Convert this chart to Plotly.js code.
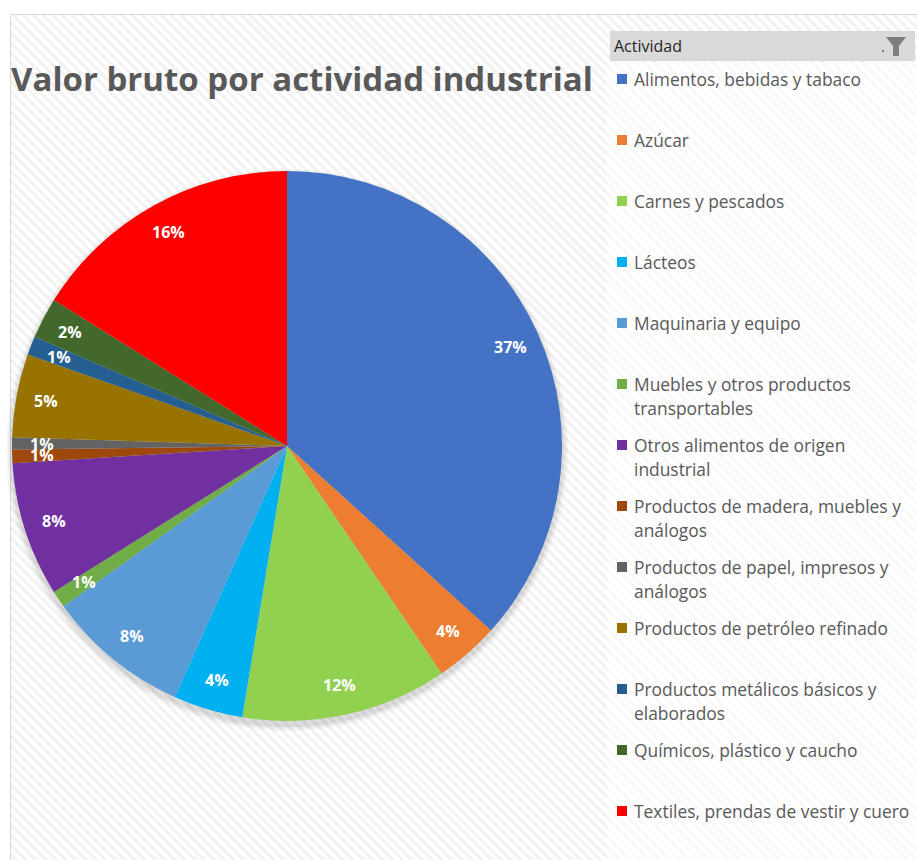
<!DOCTYPE html>
<html>
<head>
<meta charset="utf-8">
<script src="https://cdn.plot.ly/plotly-3.0.1.min.js"></script>
<style>
  html, body { margin: 0; padding: 0; background: #ffffff; }
  #wrap { position: relative; width: 917px; height: 860px; overflow: hidden; }
  #bg {
    position: absolute; left: 10px; top: 14px; right: -2px; bottom: -2px;
    border-left: 1px solid #d9d9d9; border-top: 1px solid #d9d9d9;
    background: repeating-linear-gradient(45deg, #ffffff 0px, #ffffff 3.5px, #f3f3f3 3.5px, #f3f3f3 7px);
  }
  #chart { position: absolute; left: 0; top: 0; width: 917px; height: 860px; }
</style>
</head>
<body>
<div id="wrap">
  <div id="bg"></div>
  <div id="chart"></div>
</div>
<script>
// ---- data ----
const categories = [
  "Alimentos, bebidas y tabaco",
  "Azúcar",
  "Carnes y pescados",
  "Lácteos",
  "Maquinaria y equipo",
  "Muebles y otros productos transportables",
  "Otros alimentos de origen industrial",
  "Productos de madera, muebles y análogos",
  "Productos de papel, impresos y análogos",
  "Productos de petróleo refinado",
  "Productos metálicos básicos y elaborados",
  "Químicos, plástico y caucho",
  "Textiles, prendas de vestir y cuero"
];
const legendLabels = [
  "Alimentos, bebidas y tabaco",
  "Azúcar",
  "Carnes y pescados",
  "Lácteos",
  "Maquinaria y equipo",
  "Muebles y otros productos<br>transportables",
  "Otros alimentos de origen<br>industrial",
  "Productos de madera, muebles y<br>análogos",
  "Productos de papel, impresos y<br>análogos",
  "Productos de petróleo refinado",
  "Productos metálicos básicos y<br>elaborados",
  "Químicos, plástico y caucho",
  "Textiles, prendas de vestir y cuero"
];
const values = [36.7, 3.8, 12.1, 4.1, 8.4, 1.0, 7.9, 0.8, 0.7, 4.9, 1.1, 2.4, 16.1];
const colors = ["#4472C4", "#ED7D31", "#92D050", "#00B0F0", "#5B9BD5", "#70AD47", "#7030A0",
                "#9E480E", "#636363", "#997300", "#255E91", "#43682B", "#FF0000"];
const titleText = "Valor bruto por actividad industrial";
const legendTitle = "Actividad";

// ---- geometry helpers (pixels -> paper) ----
const W = 917, H = 860;
const px = x => x / W;
const py = y => 1 - y / H;
const cx = 287, cy = 446, R = 275;

const shapes = [];
const annotations = [];

// soft drop shadow beneath the pie
[[R + 6, 0.035], [R + 4, 0.045], [R + 2, 0.06]].forEach(([r, a]) => {
  shapes.push({
    type: 'circle', xref: 'paper', yref: 'paper', layer: 'below',
    x0: px(cx - r), x1: px(cx + r), y0: py(cy + 4 + r), y1: py(cy + 4 - r),
    fillcolor: 'rgba(0,0,0,' + a + ')', line: { width: 0 }
  });
});

// legend panel (lighter)
shapes.push({
  type: 'rect', xref: 'paper', yref: 'paper', layer: 'below',
  x0: px(607), x1: px(917), y0: py(860), y1: py(62),
  fillcolor: 'rgba(255,255,255,0.55)', line: { width: 0 }
});
// legend header bar
shapes.push({
  type: 'rect', xref: 'paper', yref: 'paper', layer: 'below',
  x0: px(610), x1: px(915), y0: py(61), y1: py(31),
  fillcolor: '#d9d9d9', line: { width: 0 }
});
// funnel icon
function pth(pts) {
  return 'M' + pts.map(p => px(p[0]) + ',' + py(p[1])).join(' L') + ' Z';
}
shapes.push({
  type: 'path', xref: 'paper', yref: 'paper', layer: 'above',
  path: pth([[886, 37], [906, 37], [899, 46], [899, 56], [893, 56], [893, 46]]),
  fillcolor: '#7f7f7f', line: { width: 0 }
});
shapes.push({
  type: 'rect', xref: 'paper', yref: 'paper', layer: 'above',
  x0: px(882), x1: px(884), y0: py(52), y1: py(50),
  fillcolor: '#7f7f7f', line: { width: 0 }
});
annotations.push({
  text: legendTitle, xref: 'paper', yref: 'paper', x: px(613), y: py(46),
  xanchor: 'left', yanchor: 'middle', showarrow: false, borderpad: 0,
  font: { family: 'Open Sans, sans-serif', size: 16, color: '#262626' }
});

// custom legend entries
const legTop = 79, legStep = 61, lineStep = 24;
legendLabels.forEach((lab, i) => {
  const yc = legTop + i * legStep;
  shapes.push({
    type: 'rect', xref: 'paper', yref: 'paper', layer: 'above',
    x0: px(617), x1: px(627), y0: py(yc + 5), y1: py(yc - 5),
    fillcolor: colors[i], line: { width: 0 }
  });
  lab.split('<br>').forEach((ln, j) => {
    annotations.push({
      text: ln, xref: 'paper', yref: 'paper', x: px(633), y: py(yc + j * lineStep),
      xanchor: 'left', yanchor: 'middle', showarrow: false, borderpad: 0,
      font: { family: 'Open Sans, sans-serif', size: 17.4, color: '#595959' }
    });
  });
});

// slice percentage labels, placed along each slice bisector
const total = values.reduce((a, b) => a + b, 0);
let cum = 0;
values.forEach((v, i) => {
  const th = 2 * Math.PI * (cum + v / 2) / total;
  cum += v;
  const r = 0.89 * R;
  const x = cx + r * Math.sin(th), y = cy - r * Math.cos(th);
  annotations.push({
    text: Math.round(v / total * 100) + '%', xref: 'paper', yref: 'paper',
    x: px(x), y: py(y), xanchor: 'center', yanchor: 'middle', showarrow: false,
    borderpad: 0,
    font: { family: 'Open Sans, sans-serif', size: 16, color: '#ffffff', weight: 'bold' }
  });
});

const trace = {
  type: 'pie',
  labels: categories,
  values: values,
  sort: false,
  direction: 'clockwise',
  rotation: 0,
  marker: { colors: colors, line: { width: 0 } },
  textinfo: 'none',
  hoverinfo: 'label+percent',
  showlegend: false,
  domain: { x: [px(cx - R), px(cx + R)], y: [py(cy + R), py(cy - R)] }
};

const layout = {
  width: W, height: H,
  margin: { l: 0, r: 0, t: 0, b: 0, pad: 0 },
  paper_bgcolor: 'rgba(0,0,0,0)',
  plot_bgcolor: 'rgba(0,0,0,0)',
  showlegend: false,
  title: {
    text: '<b>' + titleText + '</b>',
    x: px(11), xanchor: 'left', xref: 'paper',
    y: 1 - 79 / H, yanchor: 'middle', yref: 'container',
    font: { family: 'Open Sans, sans-serif', size: 33, color: '#595959' }
  },
  shapes: shapes,
  annotations: annotations
};

Plotly.newPlot('chart', [trace], layout, { displayModeBar: false, staticPlot: false });
</script>
</body>
</html>
